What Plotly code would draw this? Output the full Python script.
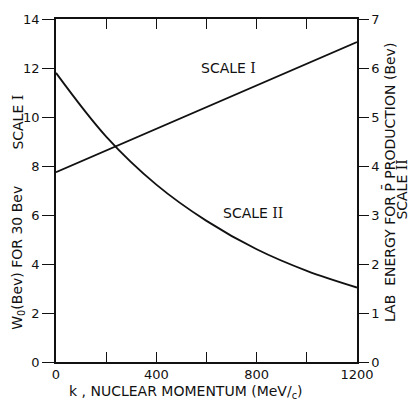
import plotly.graph_objects as go

# Data
k_vals = [0, 200, 400, 600, 800, 1000, 1200]
scale1_w0 = [7.75, 8.63, 9.52, 10.40, 11.29, 12.17, 13.06]      # left axis (Bev)
scale2_lab = [5.90, 4.60, 3.62, 2.88, 2.30, 1.86, 1.52]         # right axis (Bev)

x_tickvals = [0, 400, 800, 1200]
x_ticktext = ["0", "400", "800", "1200"]
x_minor_dtick = 200
y1_tickvals = [0, 2, 4, 6, 8, 10, 12, 14]
y2_tickvals = [0, 1, 2, 3, 4, 5, 6, 7]

FONT = "DejaVu Sans"
BLACK = "#111111"
ROMAN1 = "<span style=\"font-family:'DejaVu Serif'\">I</span>"
ROMAN2 = "<span style=\"font-family:'DejaVu Serif'\">II</span>"

fig = go.Figure()
fig.add_trace(go.Scatter(x=k_vals, y=scale1_w0, mode="lines",
                         line=dict(color=BLACK, width=1.8), yaxis="y",
                         showlegend=False, hoverinfo="skip"))
fig.add_trace(go.Scatter(x=k_vals, y=scale2_lab, mode="lines",
                         line=dict(color=BLACK, width=1.8, shape="spline", smoothing=1.0),
                         yaxis="y2", showlegend=False, hoverinfo="skip"))

axis_common = dict(showgrid=False, zeroline=False, showline=True,
                   linecolor=BLACK, linewidth=1.5, tickcolor=BLACK, tickwidth=1.2,
                   tickfont=dict(family=FONT, size=13, color=BLACK))

fig.update_layout(
    width=409, height=404,
    margin=dict(l=56, r=52, t=16, b=42),
    paper_bgcolor="white", plot_bgcolor="white",
    xaxis=dict(range=[0, 1200], tickmode="array", tickvals=x_tickvals,
               ticktext=x_ticktext, ticks="inside", ticklen=10, mirror="ticks",
               minor=dict(dtick=x_minor_dtick, ticks="inside", ticklen=10,
                          tickcolor=BLACK, tickwidth=1.2, showgrid=False),
               **axis_common),
    yaxis=dict(range=[0, 14], tickmode="array", tickvals=y1_tickvals,
               ticks="outside", ticklen=12, **axis_common),
    yaxis2=dict(range=[0, 7], tickmode="array", tickvals=y2_tickvals,
                ticks="outside", ticklen=10, overlaying="y", side="right",
                **axis_common),
)

ann_font = dict(family=FONT, size=14, color=BLACK)
annotations = [
    dict(text="SCALE " + ROMAN1, x=686, y=12.0, xref="x", yref="y",
         showarrow=False, font=ann_font),
    dict(text="SCALE " + ROMAN2, x=785, y=3.05, xref="x", yref="y2",
         showarrow=False, font=ann_font),
    dict(text="k , NUCLEAR MOMENTUM (MeV/<sub>c</sub>)", x=0.432, y=-0.088,
         xref="paper", yref="paper", showarrow=False, font=ann_font,
         xanchor="center", yanchor="middle"),
    dict(text="W<sub>0</sub>(Bev) FOR 30 Bev", x=-0.125, y=0.305,
         xref="paper", yref="paper", showarrow=False, font=ann_font,
         textangle=-90, xanchor="center", yanchor="middle"),
    dict(text="SCALE " + ROMAN1, x=-0.125, y=0.699,
         xref="paper", yref="paper", showarrow=False, font=ann_font,
         textangle=-90, xanchor="center", yanchor="middle"),
    dict(text="LAB  ENERGY FOR P\u0304 PRODUCTION (Bev)", x=1.110, y=0.522,
         xref="paper", yref="paper", showarrow=False, font=ann_font,
         textangle=-90, xanchor="center", yanchor="middle"),
    dict(text="SCALE " + ROMAN2, x=1.150, y=0.503,
         xref="paper", yref="paper", showarrow=False, font=ann_font,
         textangle=-90, xanchor="center", yanchor="middle"),
]
fig.update_layout(annotations=annotations)

fig.write_html("out.html")
